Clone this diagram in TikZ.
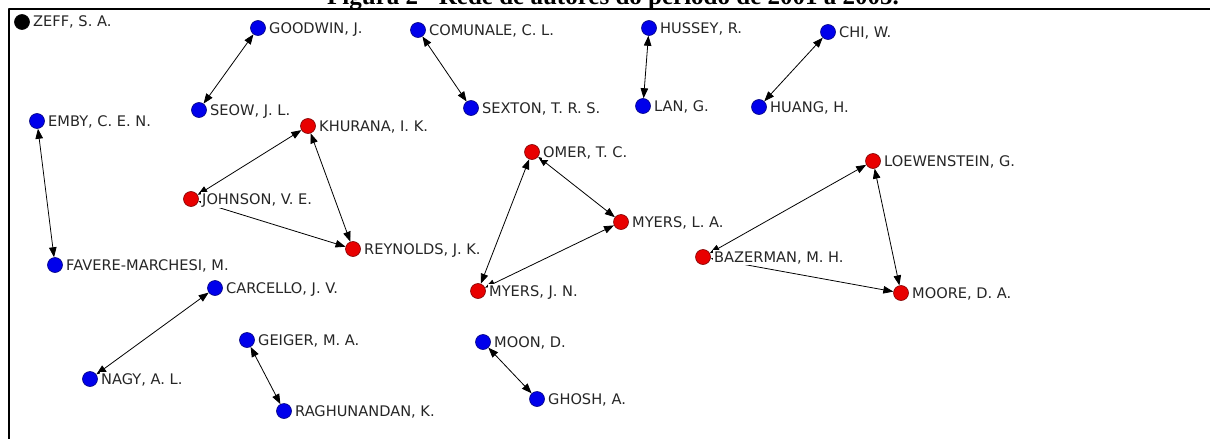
\documentclass[tikz,border=0pt]{standalone}
\usepackage{fontspec}
\setmainfont{DejaVu Sans}
\newfontfamily\capfont{Liberation Serif}
\usetikzlibrary{arrows.meta,calc}

\definecolor{aublue}{RGB}{0,0,235}
\definecolor{aured}{RGB}{232,0,0}
\definecolor{aublack}{RGB}{0,0,0}

\begin{document}
\begin{tikzpicture}[x=1pt, y=-1pt, line join=round,
		font=\fontsize{14.6}{17}\selectfont,
		au/.style={circle, draw=#1!55!black, fill=#1, minimum size=15pt, inner sep=0pt, line width=0.6pt},
		lab/.style={anchor=base west, inner sep=1pt, fill=white, text=black!85},
		link/.style={{Triangle[length=10pt,width=7.5pt]}-{Triangle[length=10pt,width=7.5pt]}, line width=0.8pt}]
	\useasboundingbox (0,0) rectangle (1210,439);
	\clip (0,0) rectangle (1210,439);
	% caption, cut at the top
	\node[font=\capfont\fontsize{25}{30}\selectfont\bfseries, anchor=base, inner sep=0pt] (cap) at (613,4.5) {Figura 2 - Rede de autores do período de 2001 a 2005.};
	\draw[line width=2.5pt] (9,450)--(9,9)--(1220,9);
	% authors
	\foreach \n/\x/\y/\c in {zeff/22/22/aublack, goodwin/258/28/aublue, comunale/418/30/aublue,
		hussey/649/28/aublue, chi/828/32/aublue, emby/37/121/aublue, seow/199/110/aublue,
		sexton/471/108/aublue, lan/643/106/aublue, huang/759/107/aublue,
		khurana/308/126/aured, johnson/191/199/aured, reynolds/353/249/aured,
		omer/532/152/aured, myersla/621/222/aured, myersjn/478/291/aured,
		bazerman/703/257/aured, loewenstein/873/161/aured, moore/901/293/aured,
		favere/55/265/aublue, carcello/215/288/aublue, geiger/247/340/aublue,
		nagy/90/379/aublue, raghunandan/284/411/aublue, moon/483/342/aublue, ghosh/537/399/aublue}
	\node[au=\c] (\n) at (\x,\y) {};
	% co-authorships
	\foreach \a/\b in {goodwin/seow, comunale/sexton, hussey/lan, chi/huang, emby/favere,
		johnson/khurana, khurana/reynolds, johnson/reynolds,
		omer/myersjn, omer/myersla, myersjn/myersla,
		bazerman/loewenstein, loewenstein/moore, bazerman/moore,
		carcello/nagy, geiger/raghunandan, moon/ghosh}
	\draw[link] (\a)--(\b);
	% names
	\foreach \n/\t in {zeff/{ZEFF, S. A.}, goodwin/{GOODWIN, J.}, comunale/{COMUNALE, C. L.},
		hussey/{HUSSEY, R.}, chi/{CHI, W.}, emby/{EMBY, C. E. N.}, seow/{SEOW, J. L.},
		sexton/{SEXTON, T. R. S.}, lan/{LAN, G.}, huang/{HUANG, H.},
		khurana/{KHURANA, I. K.}, johnson/{JOHNSON, V. E.}, reynolds/{REYNOLDS, J. K.},
		omer/{OMER, T. C.}, myersla/{MYERS, L. A.}, myersjn/{MYERS, J. N.},
		bazerman/{BAZERMAN, M. H.}, loewenstein/{LOEWENSTEIN, G.}, moore/{MOORE, D. A.},
		favere/{FAVERE-MARCHESI, M.}, carcello/{CARCELLO, J. V.}, geiger/{GEIGER, M. A.},
		nagy/{NAGY, A. L.}, raghunandan/{RAGHUNANDAN, K.}, moon/{MOON, D.}, ghosh/{GHOSH, A.}}
	\node[lab] (\n-l) at ($(\n)+(10,5)$) {\t};
\end{tikzpicture}
\end{document}
